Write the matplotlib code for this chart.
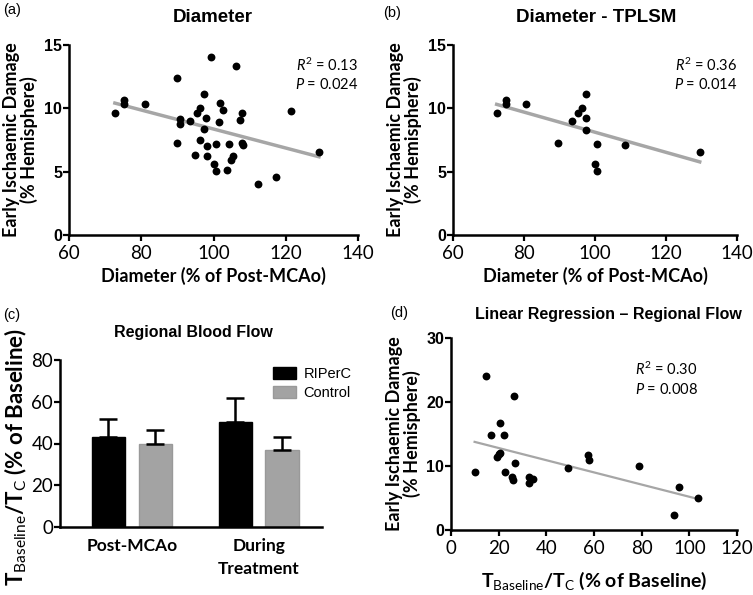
import numpy as np
import matplotlib
matplotlib.use("Agg")
from matplotlib import pyplot as plt
from matplotlib.patches import Patch

plt.rcParams['mathtext.fontset'] = 'custom'
plt.rcParams['mathtext.rm'] = 'Lato'
plt.rcParams['mathtext.it'] = 'Lato:italic'
plt.rcParams['mathtext.bf'] = 'Lato:bold'

# (a) diameter vs damage, all animals
a_x = [72.7, 75.2, 75.2, 81.1, 89.8, 89.8, 90.7, 90.7, 93.5, 94.8, 95.4, 96.3, 96.2,
       97.5, 97.5, 97.9, 98.2, 98.2, 99.3, 100.1, 100.6, 100.6, 101.4, 101.7, 102.6,
       103.8, 104.2, 104.8, 105.5, 106.1, 107.2, 108.0, 107.8, 108.3, 112.3, 117.2,
       121.5, 129.2]
a_y = [9.61, 10.66, 10.35, 10.32, 12.42, 7.30, 9.14, 8.75, 9.0, 6.33, 9.61, 10.0, 7.51,
       11.14, 8.35, 9.27, 6.99, 6.20, 14.03, 5.62, 7.20, 5.02, 8.96, 10.40, 9.88,
       5.10, 7.20, 5.94, 6.20, 13.37, 9.09, 9.61, 7.30, 7.09, 4.02, 4.57,
       9.82, 6.59]

# (b) diameter vs damage, TPLSM subset
b_x = [72.3, 74.8, 74.8, 80.7, 89.6, 93.4, 95.2, 96.4, 97.5, 97.6, 97.4, 100.0, 100.5,
       100.6, 108.5, 129.5]
b_y = [9.61, 10.66, 10.35, 10.32, 7.30, 9.0, 9.61, 10.0, 11.14, 9.27, 8.30, 5.62, 7.20,
       5.02, 7.09, 6.59]

# (c) regional blood flow bars
groups = ['Post-MCAo', 'During\nTreatment']
riperc_mean = [43.2, 50.1]
riperc_err = [8.3, 11.5]
control_mean = [40.0, 36.8]
control_err = [6.7, 6.2]

# (d) regional flow vs damage
d_x = [9.9, 14.8, 16.9, 19.2, 20.3, 20.6, 20.6, 22.3, 22.6, 25.5, 26.2, 26.3, 27.0,
       32.8, 32.9, 34.3, 49.2, 57.6, 58.1, 79.0, 95.7, 93.6, 103.5]
d_y = [9.13, 24.0, 14.87, 11.48, 11.9, 16.7, 12.1, 14.87, 9.13, 8.24, 7.82, 20.97, 10.54,
       8.35, 7.30, 7.93, 9.65, 11.74, 10.95, 10.07, 6.78, 2.4, 4.96]

stats_a = ['0.13', '0.024']
stats_b = ['0.36', '0.014']
stats_d = ['0.30', '0.008']

W, H = 753, 595
fig = plt.figure(figsize=(W / 100, H / 100), dpi=100)


def px_axes(left, right, top, bottom):
    return fig.add_axes([left / W, 1 - bottom / H, (right - left) / W, (bottom - top) / H])


def prism_style(ax, ytick_bold=True):
    for s in ['top', 'right']:
        ax.spines[s].set_visible(False)
    for s in ['left', 'bottom']:
        ax.spines[s].set_linewidth(1.8)
    ax.tick_params(direction='out', length=4, width=1.6, labelsize=13.5)
    for lab in ax.get_xticklabels():
        lab.set_fontfamily('Lato')
    for lab in ax.get_yticklabels():
        if ytick_bold:
            lab.set_fontfamily('Liberation Sans')
            lab.set_fontweight('bold')
            lab.set_fontsize(11.5)
        else:
            lab.set_fontfamily('Lato')
    ax.tick_params(axis='y', pad=1)


def scatter_panel(ax, x, y, xlim, ylim, xticks, yticks, stats, lw, sx, sy):
    ax.scatter(x, y, s=32, color='black', zorder=3, linewidths=0)
    k, b = np.polyfit(x, y, 1)
    xx = np.array([min(x), max(x)])
    ax.plot(xx, k * xx + b, color='#a6a6a6', lw=lw, zorder=2)
    ax.set_xlim(*xlim)
    ax.set_ylim(*ylim)
    ax.set_xticks(xticks)
    ax.set_yticks(yticks)
    prism_style(ax)
    ax.set_ylabel('Early Ischaemic Damage\n(% Hemisphere)', fontsize=13,
                  fontweight='bold', family='Lato', linespacing=1.0, labelpad=4)
    ax.text(sx, sy, '$R^2$ = ' + stats[0], transform=ax.transAxes, ha='right',
            va='center', fontsize=10.5, family='Lato')
    ax.text(sx, sy - 0.105, '$P$ = ' + stats[1], transform=ax.transAxes, ha='right',
            va='center', fontsize=10.5, family='Lato')


# 面板 (a)
ax1 = px_axes(69, 358, 45, 235)
scatter_panel(ax1, a_x, a_y, (60, 140), (0, 15), [60, 80, 100, 120, 140], [0, 5, 10, 15],
              stats_a, 2.5, 1.0, 0.895)
ax1.set_xlabel('Diameter (% of Post-MCAo)', fontsize=13, fontweight='bold', family='Lato',
               labelpad=3)

# 面板 (b)
ax2 = px_axes(453, 737, 45, 235)
scatter_panel(ax2, b_x, b_y, (60, 140), (0, 15), [60, 80, 100, 120, 140], [0, 5, 10, 15],
              stats_b, 2.5, 1.0, 0.895)
ax2.set_xlabel('Diameter (% of Post-MCAo)', fontsize=13, fontweight='bold', family='Lato',
               labelpad=3)

# 面板 (c)
ax3 = px_axes(60, 322, 360, 527)
pos = np.arange(len(groups))
ax3.bar(pos - 0.185, riperc_mean, 0.263, color='black', edgecolor='black', lw=1,
        yerr=[np.zeros(2), riperc_err], error_kw=dict(ecolor='black', elinewidth=1.8,
                                                       capsize=6.5, capthick=1.8))
ax3.bar(pos + 0.185, control_mean, 0.263, color='#a3a3a3', edgecolor='#999999', lw=1,
        yerr=[np.zeros(2), control_err], error_kw=dict(ecolor='black', elinewidth=1.8,
                                                        capsize=6.5, capthick=1.8))
ax3.set_xlim(-0.567, 1.5)
ax3.set_ylim(0, 80)
ax3.set_yticks([0, 20, 40, 60, 80])
ax3.set_xticks(pos)
ax3.set_xticklabels(groups)
prism_style(ax3, ytick_bold=False)
ax3.tick_params(axis='x', length=0, pad=8)
for lab in ax3.get_xticklabels():
    lab.set_fontweight('bold')
    lab.set_fontsize(12.5)
    lab.set_linespacing(1.5)
ax3.set_ylabel(r'T$_{\mathrm{Baseline}}$/T$_{\mathrm{C}}$ (% of Baseline)', fontsize=16,
               fontweight='bold', family='Lato')
ax3.yaxis.set_label_coords(-0.118, 0.42)
ax3.legend(handles=[Patch(facecolor='black', edgecolor='black', label='RIPerC'),
                    Patch(facecolor='#a3a3a3', edgecolor='#999999', label='Control')],
           loc='upper left', bbox_to_anchor=(0.785, 1.0), frameon=False, borderpad=0,
           prop={'family': 'Liberation Sans', 'size': 10.5}, handlelength=1.6,
           handleheight=0.9, handletextpad=0.5, labelspacing=0.3)

# 面板 (d)
ax4 = px_axes(451, 737, 338, 530)
scatter_panel(ax4, d_x, d_y, (0, 120), (0, 30), [0, 20, 40, 60, 80, 100, 120],
              [0, 10, 20, 30], stats_d, 1.6, 0.863, 0.835)
ax4.set_xlabel(r'T$_{\mathrm{Baseline}}$/T$_{\mathrm{C}}$ (% of Baseline)', fontsize=14,
               fontweight='bold', family='Lato', labelpad=9)

# 标题和面板编号
titles = [('Diameter', 213, 17, 13.5), ('Diameter - TPLSM', 596, 17, 13.5),
          ('Regional Blood Flow', 193, 333, 11.5),
          ('Linear Regression \u2013 Regional Flow', 608, 315, 11.5)]
for t, x, y, fs in titles:
    fig.text(x / W, 1 - y / H, t, ha='center', va='center', fontsize=fs,
             fontweight='bold', family='Liberation Sans')
for t, x, y in [('(a)', 3, 10), ('(b)', 383, 13), ('(c)', 3, 315), ('(d)', 390, 313)]:
    fig.text(x / W, 1 - y / H, t, ha='left', va='center', fontsize=10.5,
             family='Liberation Sans')

plt.savefig('out.png', dpi=100)
